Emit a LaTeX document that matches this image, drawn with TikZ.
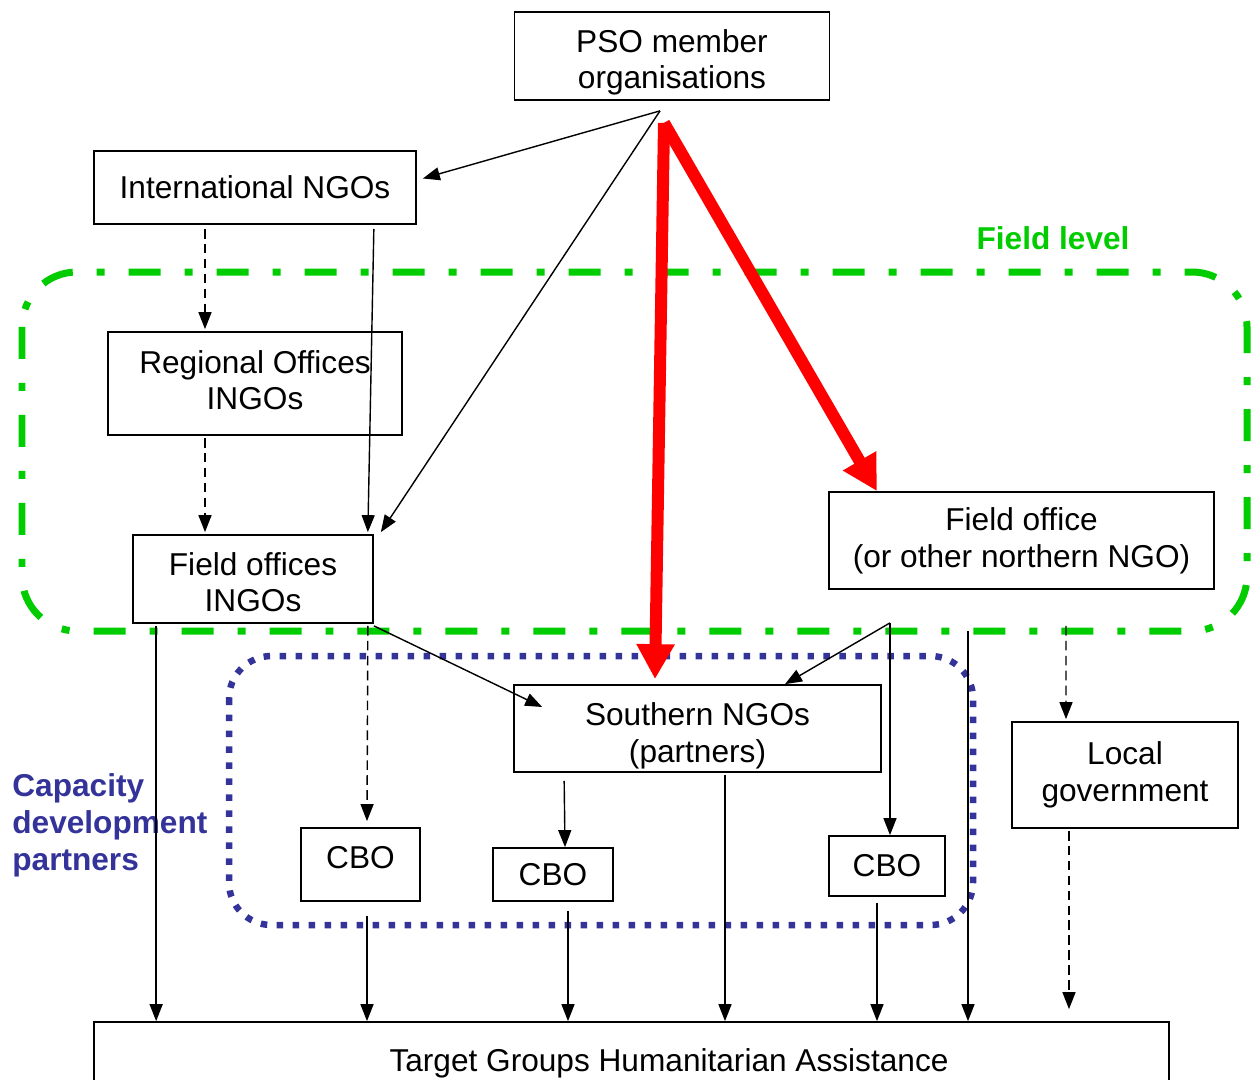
\documentclass[tikz,border=0pt]{standalone}
\usepackage{fontspec}
\setmainfont{Liberation Sans}
\usepackage{tikz}
\usetikzlibrary{arrows.meta,calc}
\definecolor{field green}{rgb}{0, 0.8, 0}
\definecolor{partner blue}{rgb}{0.2, 0.2, 0.6}
\definecolor{pso red}{rgb}{1, 0, 0}

\begin{document}
\begin{tikzpicture}[x=0.02cm, y=-0.02cm,
		box/.style={draw, line width=1pt, align=center, inner sep=2pt, font=\fontsize{18}{21}\selectfont},
		conn/.style={line width=0.8pt, -{Triangle[length=0.34cm, width=0.26cm]}},
		weak/.style={conn, dash pattern=on 5.5pt off 3pt},
		pso arrow/.style={pso red, line width=0.24cm, -{Triangle[length=0.7cm, width=0.72cm]}}]
			\useasboundingbox (0,0) rectangle (1253,1079);
			% part for field level
			\begin{scope}
				\draw[field green, line width=0.14cm, dash pattern=on 0.64cm off 0.48cm on 0.16cm off 0.48cm, rounded corners=1.1cm]
					(22,272) rectangle (1247,631);
				\node[font=\bfseries\fontsize{18}{21}\selectfont, text=field green] (fieldlbl) at (1053,238) {Field level};
			\end{scope}
			% part for capacity development partners
			\begin{scope}
				\draw[partner blue, line width=0.13cm, dash pattern=on 0.13cm off 0.19cm, rounded corners=0.85cm]
					(229,656) rectangle (973,925);
				\node[font=\bfseries\fontsize{18}{21}\selectfont, text=partner blue, align=left, anchor=west, inner sep=0pt]
					(caplbl) at (12,825) {Capacity\\development\\partners};
			\end{scope}
			% boxes
			\node[box, minimum width=6.3cm, minimum height=1.76cm, text depth=0pt] (pso) at (672,56) {\rule{0pt}{16.5pt}PSO member\\organisations};
			\node[box, minimum width=6.44cm, minimum height=1.46cm] (ingo) at (255,187.5) {International NGOs};
			\node[box, minimum width=5.88cm, minimum height=2.06cm, text depth=4pt] (regio) at (255,383.5) {Regional Offices\\INGOs};
			\node[box, minimum width=4.8cm, minimum height=1.76cm, text depth=0pt] (fobs) at (253,579) {\rule{0pt}{16.5pt}Field offices\\INGOs};
			\node[box, minimum width=7.7cm, minimum height=1.94cm] (fnorth) at (1021.5,540.5) {Field office\\(or other northern NGO)};
			\node[box, minimum width=7.34cm, minimum height=1.74cm, text depth=0pt] (sngo) at (697.5,728.5) {\rule{0pt}{17.5pt}Southern NGOs\\(partners)};
			\node[box, minimum width=4.52cm, minimum height=2.12cm] (lgov) at (1125,775) {Local\\government};
			\node[box, minimum width=2.38cm, minimum height=1.46cm, text depth=8pt] (cboa) at (360.5,864.5) {CBO};
			\node[box, minimum width=2.4cm, minimum height=1.06cm] (cbob) at (553,874.5) {CBO};
			\node[box, minimum width=2.32cm, minimum height=1.2cm] (cboc) at (887,866) {CBO};
			\node[box, minimum width=21.5cm, minimum height=1.76cm] (target) at (631.5,1066) {};
			\node[font=\fontsize{18}{21}\selectfont, anchor=base] (tgtext) at (669,1071) {Target Groups Humanitarian Assistance};
			% split points
			\coordinate (apex) at ($(pso.south)+(-12,10)$);
			\coordinate (redtop) at ($(pso.south)+(-8,22)$);
			\coordinate (split) at ($(fnorth.south)+(-131.5,33)$);
			% from PSO
			\draw[conn] (apex) -- ($(ingo.east)+(6,-9)$);
			\draw[conn] (apex) -- ($(fobs.north east)+(7,-2)$);
			\draw[pso arrow] (redtop) -- ($(sngo.north)+(-42.5,-5)$);
			\draw[pso arrow] (redtop) -- ($(fnorth.north)+(-144.5,0)$);
			% INGO chain
			\draw[conn] ($(ingo.south east)+(-43,4)$) -- ($(fobs.north east)+(-6,-2)$);
			\draw[weak] ($(ingo.south)+(-50,4)$) -- ($(regio.north)+(-50,-2)$);
			\draw[weak] ($(regio.south)+(-50,2)$) -- ($(fobs.north)+(-48,-2)$);
			\draw[conn] ($(fobs.south east)+(0,2)$) -- ($(sngo.west)+(29,-21.5)$);
			\draw[weak] ($(fobs.south east)+(-6,2)$) -- ($(cboa.north)+(6.5,-6)$);
			% field office
			\draw[conn] (split) -- ($(sngo.north)+(87.5,0)$);
			\draw[conn] (split) -- ($(cboc.north)+(3,0)$);
			\draw[weak] ($(fnorth.south)+(44.5,36)$) -- ($(lgov.north)+(-59,-2)$);
			\draw[conn] ($(sngo.south west)+(51,8)$) -- ($(cbob.north)+(12,0)$);
			% down to target groups
			\coordinate (t1) at ($(fobs.south west)+(24,2)$);
			\coordinate (t2) at ($(cboa.south)+(6.5,14)$);
			\coordinate (t3) at ($(cbob.south)+(15,9)$);
			\coordinate (t4) at ($(sngo.south)+(27.5,2)$);
			\coordinate (t5) at ($(cboc.south)+(-10,6)$);
			\coordinate (t6) at ($(fnorth.south)+(-53.5,41)$);
			\draw[conn] (t1) -- (t1 |- target.north);
			\draw[conn] (t2) -- (t2 |- target.north);
			\draw[conn] (t3) -- (t3 |- target.north);
			\draw[conn] (t4) -- (t4 |- target.north);
			\draw[conn] (t5) -- (t5 |- target.north);
			\draw[conn] (t6) -- (t6 |- target.north);
			\draw[weak] ($(lgov.south)+(-56,2)$) -- ($(lgov.south |- target.north)+(-56,-12)$);
		\end{tikzpicture}
\end{document}
